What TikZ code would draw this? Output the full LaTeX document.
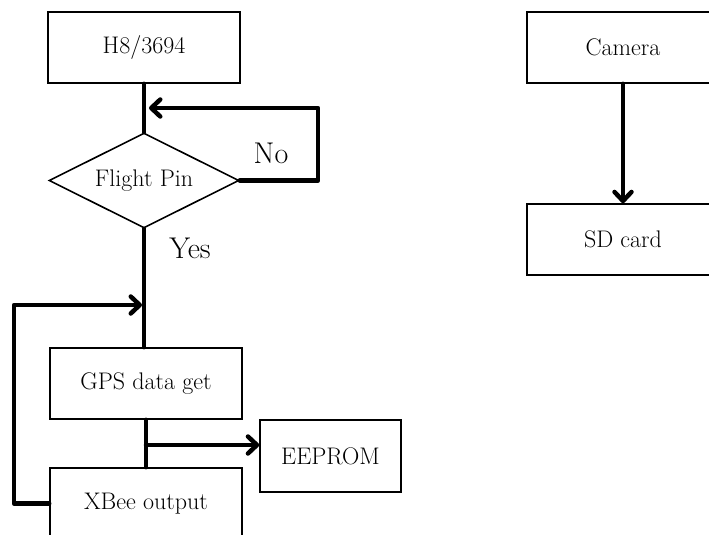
\documentclass[tikz,border=0pt]{standalone}
\usetikzlibrary{shapes.geometric,arrows.meta,calc}
\begin{document}
\begin{tikzpicture}[x=1pt,y=-1pt,
  box/.style={draw=black,line width=1.6pt,rectangle,minimum width=192pt,minimum height=71pt,inner sep=0pt,font=\fontsize{24}{28}\selectfont},
  decision/.style={draw=black,line width=1.6pt,diamond,aspect=2,minimum width=190pt,minimum height=95pt,inner sep=0pt,font=\fontsize{24}{28}\selectfont},
  conn/.style={line width=4.5pt,line cap=round,line join=round},
  arr/.style={conn,-{Straight Barb[length=9pt,width=17pt,line cap=round,line join=round]}},
  lbl/.style={font=\fontsize{30}{34}\selectfont,inner sep=0pt}]
\useasboundingbox (0,0) rectangle (709,535);
\node[box] (h8) at (144,47.5) {H8/3694};
\node[decision] (flight) at (144,180.5) {Flight Pin};
\node[box] (gps) at (146,383.5) {GPS data get};
\node[box] (xbee) at (146,503.5) {XBee output};
\node[box,minimum width=141pt,minimum height=72pt] (eeprom) at (330.5,456) {EEPROM};
\node[box] (camera) at (623,47.5) {Camera};
\node[box] (sd) at (623,239.5) {SD card};
\node[lbl] (no) at (271,153) {No};
\node[lbl] (yes) at (190,248) {Yes};
\coordinate (j1) at (149,108);
\coordinate (j2) at (142,305);
\coordinate (j3) at (146,445);
% connectors
\draw[conn] (h8.south) -- (flight.north);
\draw[arr] (flight.east) -- (318,180.5) -- (318,108) -- (j1);
\draw[conn] (flight.south) -- (flight.south |- gps.north);
\draw[arr] (xbee.west) -- (14,503.5) -- (14,305) -- (j2);
\draw[conn] (gps.south) -- (xbee.north);
\draw[arr] (j3) -- (eeprom.west |- j3);
\draw[arr] (camera.south) -- (sd.north);
\end{tikzpicture}
\end{document}
